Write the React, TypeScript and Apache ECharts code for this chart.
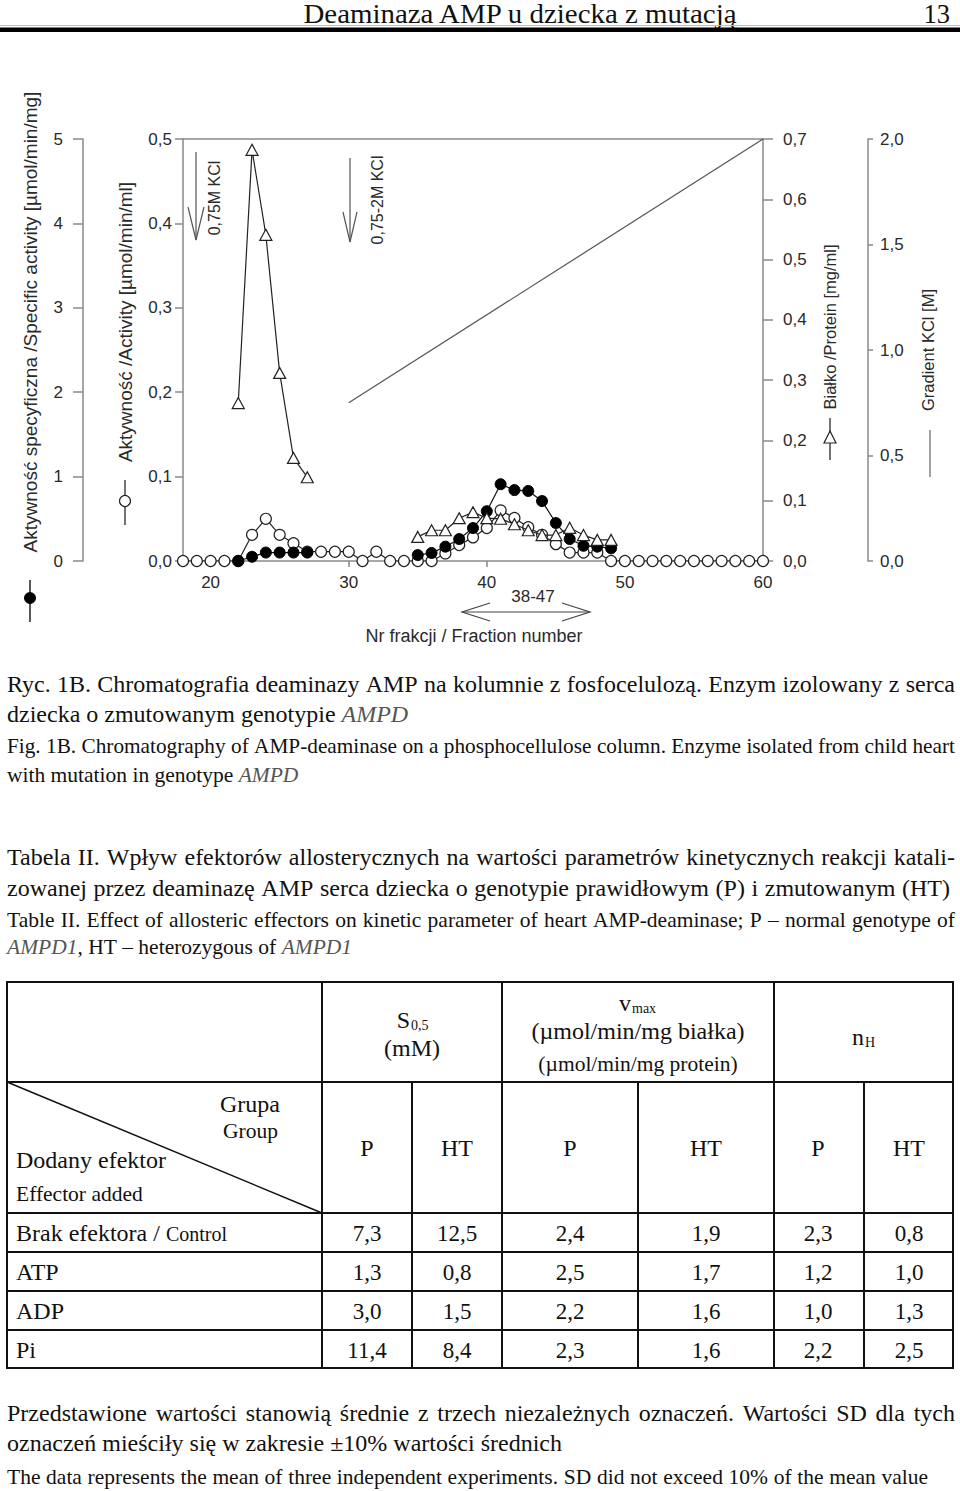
import { useEffect, useRef } from 'react';
import * as echarts from 'echarts';

// ---------------- chart data ----------------
const fractions = [18, 19, 20, 21, 22, 23, 24, 25, 26, 27, 28, 29, 30, 31, 32, 33, 34, 35, 36, 37, 38, 39, 40, 41, 42, 43, 44, 45, 46, 47, 48, 49, 50, 51, 52, 53, 54, 55, 56, 57, 58, 59, 60];
// Aktywność / Activity [µmol/min/ml] (open circles)
const activity = [0, 0, 0, 0, 0, 0.031, 0.05, 0.031, 0.021, 0.011, 0.011, 0.011, 0.011, 0, 0.011, 0, 0, 0, 0, 0.009, 0.019, 0.028, 0.039, 0.06, 0.051, 0.04, 0.031, 0.02, 0.01, 0.01, 0.01, 0, 0, 0, 0, 0, 0, 0, 0, 0, 0, 0, 0];
const peakFractions = [22, 23, 24, 25, 26, 27, 28, 29, 30, 31, 32, 33, 34, 35, 36, 37, 38, 39, 40, 41, 42, 43, 44, 45, 46, 47, 48, 49];
// Aktywność specyficzna / Specific activity [µmol/min/mg] (filled circles)
const specificActivity = [0, 0.05, 0.1, 0.1, 0.1, 0.1, null, null, null, null, null, null, null, 0.07, 0.095, 0.17, 0.26, 0.39, 0.59, 0.91, 0.84, 0.83, 0.71, 0.45, 0.26, 0.18, 0.17, 0.15];
// Białko / Protein [mg/ml] (triangles)
const protein = [0.262, 0.682, 0.541, 0.312, 0.171, 0.139, null, null, null, null, null, null, null, 0.04, 0.051, 0.051, 0.071, 0.081, 0.071, 0.07, 0.061, 0.051, 0.043, 0.043, 0.055, 0.043, 0.035, 0.035];
// Gradient KCl [M]
const kclFractions = [30, 60];
const kclGradient = [0.75, 2.0];
const xTickValues = [20, 30, 40, 50, 60];

// ---------------- table data ----------------
const effectors = ['Brak efektora', 'ATP', 'ADP', 'Pi'];
const s05P = [7.3, 1.3, 3.0, 11.4];
const s05HT = [12.5, 0.8, 1.5, 8.4];
const vmaxP = [2.4, 2.5, 2.2, 2.3];
const vmaxHT = [1.9, 1.7, 1.6, 1.6];
const nhP = [2.3, 1.2, 1.0, 2.2];
const nhHT = [0.8, 1.0, 1.3, 2.5];

const SANS = 'Liberation Sans';
const SERIF = 'Liberation Serif';
const AXIS = '#8a8a8a';
const LBL = '#2a2a2a';
const INK = '#111';

const fmt1 = (v: number) => v.toFixed(1).replace('.', ',');

let mctx: CanvasRenderingContext2D | null = null;
function measure(t: string, size: number, italic: boolean) {
  if (!mctx) mctx = document.createElement('canvas').getContext('2d');
  mctx!.font = `${italic ? 'italic ' : ''}${size}px "${SERIF}"`;
  return mctx!.measureText(t).width;
}

type Seg = { t: string; i: boolean };
function parseWords(line: string): Seg[][] {
  let italic = false;
  return line.split(' ').filter((w) => w.length).map((w) => {
    const segs: Seg[] = [];
    let cur = '';
    for (const ch of w) {
      if (ch === '*') {
        if (cur) segs.push({ t: cur, i: italic });
        cur = '';
        italic = !italic;
      } else cur += ch;
    }
    if (cur) segs.push({ t: cur, i: italic });
    return segs;
  });
}

function textLine(line: string, x: number, y: number, size: number, target: number, justify: boolean) {
  const words = parseWords(line);
  const widths = words.map((ws) => ws.reduce((s, g) => s + measure(g.t, size, g.i), 0));
  const sum = widths.reduce((a, b) => a + b, 0);
  const sp = measure(' ', size, false);
  const n = words.length;
  let sx = 1;
  let gap = sp;
  const natural = sum + sp * (n - 1);
  if (justify && n > 1) {
    if (natural <= target) gap = (target - sum) / (n - 1);
    else { sx = target / natural; gap = sp * sx; }
  }
  const els: any[] = [];
  let cx = x;
  words.forEach((ws, k) => {
    let wx = cx;
    ws.forEach((g) => {
      els.push({
        type: 'text', x: wx, y, scaleX: sx, silent: true,
        style: { text: g.t, fontFamily: SERIF, fontSize: size, fontStyle: g.i ? 'italic' : 'normal', fill: g.i ? '#555' : INK, align: 'left', verticalAlign: 'middle' },
      });
      wx += measure(g.t, size, g.i) * sx;
    });
    cx += widths[k] * sx + gap;
  });
  return els;
}

function txt(text: string, x: number, y: number, size: number, opt: any = {}) {
  return {
    type: 'text', x, y, rotation: opt.rotation || 0, scaleX: opt.scaleX || 1, silent: true,
    style: {
      text, fontFamily: opt.family || SERIF, fontSize: size, fontStyle: opt.italic ? 'italic' : 'normal',
      fill: opt.fill || INK, align: opt.align || 'left', verticalAlign: 'middle',
    },
  };
}
function ln(x1: number, y1: number, x2: number, y2: number, w = 1, c = INK) {
  return { type: 'line', silent: true, shape: { x1, y1, x2, y2 }, style: { stroke: c, lineWidth: w } };
}
function pl(points: number[][], w = 1, c = INK) {
  return { type: 'polyline', silent: true, shape: { points }, style: { stroke: c, lineWidth: w, fill: null } };
}

const PL = 24; // Polish text size
const EN = 21.5; // English text size
const paragraphs: [string, number, number, number, boolean][] = [
  ['Ryc. 1B. Chromatografia deaminazy AMP na kolumnie z fosfocelulozą. Enzym izolowany z serca', 684, PL, 948, true],
  ['dziecka o zmutowanym genotypie *AMPD*', 714, PL, 0, false],
  ['Fig. 1B. Chromatography of AMP-deaminase on a phosphocellulose column. Enzyme isolated from child heart', 746, EN, 948, true],
  ['with mutation in genotype *AMPD*', 775, EN, 0, false],
  ['Tabela II. Wpływ efektorów allosterycznych na wartości parametrów kinetycznych reakcji katali-', 857, PL, 948, true],
  ['zowanej przez deaminazę AMP serca dziecka o genotypie prawidłowym (P) i zmutowanym (HT)', 888, PL, 943, true],
  ['Table II.  Effect of allosteric effectors on kinetic parameter of heart AMP-deaminase; P – normal genotype of', 920, EN, 948, true],
  ['*AMPD1*, HT – heterozygous of *AMPD1*', 947, EN, 0, false],
  ['Przedstawione wartości stanowią średnie z trzech niezależnych oznaczeń. Wartości SD dla tych', 1413, PL, 948, true],
  ['oznaczeń mieściły się w zakresie ±10% wartości średnich', 1443, PL, 0, false],
  ['The data represents the mean of three independent experiments. SD did not exceed 10% of the mean value', 1477, EN, 921, true],
];

function buildGraphic() {
  const els: any[] = [];
  // page header
  const header = 'Deaminaza AMP u dziecka z mutacją';
  const hs = 436 / measure(header, 26.5, false);
  els.push(txt(header, 520, 13.5, 26.5, { align: 'center', scaleX: hs }));
  els.push(txt('13', 950, 13.5, 26.5, { align: 'right' }));
  els.push(ln(0, 25.5, 960, 25.5, 1, '#bbb'));
  els.push({ type: 'rect', silent: true, shape: { x: 0, y: 27.5, width: 960, height: 4.5 }, style: { fill: '#000' } });

  // chart annotations
  els.push(txt('Aktywność specyficzna /Specific activity [µmol/min/mg]', 30, 322, 19, { family: SANS, align: 'center', rotation: Math.PI / 2, fill: LBL }));
  els.push(ln(30, 580, 30, 622, 1.5, '#222'));
  els.push({ type: 'circle', silent: true, shape: { cx: 30, cy: 598, r: 5.5 }, style: { fill: '#000', stroke: '#000' } });

  els.push(txt('Aktywność /Activity [µmol/min/ml]', 125, 322, 19, { family: SANS, align: 'center', rotation: Math.PI / 2, fill: LBL }));
  els.push(ln(125, 480, 125, 525, 1.5, '#444'));
  els.push({ type: 'circle', silent: true, shape: { cx: 125, cy: 501, r: 5.5 }, style: { fill: '#fff', stroke: '#222', lineWidth: 1.2 } });

  els.push(txt('Białko /Protein [mg/ml]', 830, 327, 16.5, { family: SANS, align: 'center', rotation: Math.PI / 2, fill: LBL }));
  els.push(ln(830, 418, 830, 460, 1.5, '#444'));
  els.push({ type: 'polygon', silent: true, shape: { points: [[830, 431], [836, 443], [824, 443]] }, style: { fill: '#fff', stroke: '#222', lineWidth: 1.2 } });

  els.push(txt('Gradient KCl [M]', 928, 350, 16.5, { family: SANS, align: 'center', rotation: Math.PI / 2, fill: LBL }));
  els.push(ln(930, 430, 930, 477, 1.2, '#666'));

  // elution arrows
  els.push(ln(196, 152, 196, 240, 1.2, '#555'));
  els.push(pl([[188, 207], [196, 240], [204, 207]], 1.2, '#555'));
  els.push(txt('0,75M KCl', 214, 198, 16, { family: SANS, align: 'center', rotation: Math.PI / 2, fill: LBL }));
  els.push(ln(350, 158, 350, 242, 1.2, '#555'));
  els.push(pl([[343, 212], [350, 242], [357, 212]], 1.2, '#555'));
  els.push(txt('0,75-2M KCl', 377, 200, 16, { family: SANS, align: 'center', rotation: Math.PI / 2, fill: LBL }));

  // pooled fractions
  els.push(txt('38-47', 533, 596, 17, { family: SANS, align: 'center', fill: LBL }));
  els.push(ln(462, 612, 590, 612, 1.2, '#444'));
  els.push(pl([[490, 603], [462, 612], [490, 621]], 1.2, '#444'));
  els.push(pl([[562, 603], [590, 612], [562, 621]], 1.2, '#444'));
  els.push(txt('Nr frakcji / Fraction number', 474, 636, 18, { family: SANS, align: 'center', fill: LBL }));

  // captions and paragraphs
  paragraphs.forEach(([t, y, size, target, just]) => {
    textLine(t, 7, y, size, target, just).forEach((e) => els.push(e));
  });

  // table
  const T = 982, H1 = 1082, H2 = 1213, B = 1368, L = 7, R = 953;
  const rowsY = [1213, 1252, 1291, 1330];
  const lw = 2;
  els.push({ type: 'rect', silent: true, shape: { x: L, y: T, width: R - L, height: B - T }, style: { fill: null, stroke: INK, lineWidth: lw } });
  els.push(ln(L, H1, R, H1, lw));
  rowsY.forEach((y) => els.push(ln(L, y, R, y, lw)));
  [322, 502, 774].forEach((x) => els.push(ln(x, T, x, B, lw)));
  [412, 638, 864].forEach((x) => els.push(ln(x, H1, x, B, lw)));
  els.push(ln(L, H1, 322, H2, 1.5));

  els.push(txt('S', 410, 1020, 24, { align: 'right' }));
  els.push(txt('0,5', 411, 1025, 14));
  els.push(txt('(mM)', 412, 1048, 24, { align: 'center' }));
  els.push(txt('v', 631, 1003, 24, { align: 'right' }));
  els.push(txt('max', 632, 1008, 14));
  els.push(txt('(µmol/min/mg białka)', 638, 1031, 24, { align: 'center' }));
  els.push(txt('(µmol/min/mg protein)', 638, 1064, 21.5, { align: 'center' }));
  els.push(txt('n', 864, 1037, 24, { align: 'right' }));
  els.push(txt('H', 865, 1042, 14));

  els.push(txt('Grupa', 220, 1104, 24));
  els.push(txt('Group', 223, 1131, 21.5));
  els.push(txt('Dodany efektor', 16, 1160, 24));
  els.push(txt('Effector added', 16, 1194, 21.5));
  const colC = [367, 457, 570, 706, 818, 909];
  ['P', 'HT', 'P', 'HT', 'P', 'HT'].forEach((t, k) => els.push(txt(t, colC[k], 1148, 24, { align: 'center' })));

  const cols = [s05P, s05HT, vmaxP, vmaxHT, nhP, nhHT];
  effectors.forEach((name, r) => {
    const yc = rowsY[r] + 20;
    if (r === 0) {
      els.push(txt(name + ' / ', 16, yc, 24));
      els.push(txt('Control', 16 + measure(name + ' / ', 24, false), yc + 1, 20));
    } else {
      els.push(txt(name, 16, yc, 24));
    }
    cols.forEach((arr, k) => els.push(txt(fmt1(arr[r]), colC[k], yc, 23, { align: 'center' })));
  });
  return els;
}

function yAxisBase(extra: any) {
  return {
    type: 'value',
    axisLine: { show: true, lineStyle: { color: AXIS, width: 1.5 } },
    axisTick: { show: true, inside: false, lineStyle: { color: AXIS, width: 1.5 } },
    axisLabel: { color: LBL, fontFamily: SANS, fontSize: 17 },
    splitLine: { show: false },
    ...extra,
  };
}

export default function App() {
  const ref = useRef<HTMLDivElement>(null);
  useEffect(() => {
    if (!ref.current) return;
    const chart = echarts.init(ref.current, null, { renderer: 'svg' });
    const option: any = {
      animation: false,
      backgroundColor: '#fff',
      grid: { left: 183, right: 197, top: 139, height: 422 },
      xAxis: [
        {
          type: 'value', min: 18, max: 60, position: 'bottom',
          axisLine: { show: true, onZero: false, lineStyle: { color: AXIS, width: 1.5 } },
          axisTick: { show: true, length: 6, customValues: xTickValues, lineStyle: { color: AXIS, width: 1.5 } },
          axisLabel: { customValues: xTickValues, color: LBL, fontFamily: SANS, fontSize: 17, margin: 13 },
          splitLine: { show: false },
        },
        {
          type: 'value', min: 18, max: 60, position: 'top',
          axisLine: { show: true, onZero: false, lineStyle: { color: AXIS, width: 1.5 } },
          axisTick: { show: false }, axisLabel: { show: false }, splitLine: { show: false },
        },
      ],
      yAxis: [
        yAxisBase({ min: 0, max: 0.5, interval: 0.1, position: 'left', offset: 0,
          axisTick: { show: true, length: 8, lineStyle: { color: AXIS, width: 1.5 } },
          axisLabel: { color: LBL, fontFamily: SANS, fontSize: 17, margin: 11, formatter: (v: number) => fmt1(v) } }),
        yAxisBase({ min: 0, max: 5, interval: 1, position: 'left', offset: 100,
          axisTick: { show: true, length: 10, lineStyle: { color: AXIS, width: 1.5 } },
          axisLabel: { color: LBL, fontFamily: SANS, fontSize: 17, margin: 20, formatter: (v: number) => String(v) } }),
        yAxisBase({ min: 0, max: 0.7, interval: 0.1, position: 'right', offset: 0,
          axisTick: { show: true, length: 10, lineStyle: { color: AXIS, width: 1.5 } },
          axisLabel: { color: LBL, fontFamily: SANS, fontSize: 17, margin: 20, formatter: (v: number) => fmt1(v) } }),
        yAxisBase({ min: 0, max: 2, interval: 0.5, position: 'right', offset: 105,
          axisTick: { show: true, length: 5, lineStyle: { color: AXIS, width: 1.5 } },
          axisLabel: { color: LBL, fontFamily: SANS, fontSize: 17, margin: 12, formatter: (v: number) => fmt1(v) } }),
      ],
      series: [
        {
          type: 'line', xAxisIndex: 0, yAxisIndex: 3, z: 1, silent: true,
          data: kclFractions.map((f, i) => [f, kclGradient[i]]),
          symbol: 'none', lineStyle: { color: '#555', width: 1.2 },
        },
        {
          type: 'line', xAxisIndex: 0, yAxisIndex: 0, z: 2, silent: true,
          data: fractions.map((f, i) => [f, activity[i]]),
          symbol: 'circle', symbolSize: 11,
          itemStyle: { color: '#fff', borderColor: '#222', borderWidth: 1.2 },
          lineStyle: { color: '#222', width: 1.2 },
        },
        {
          type: 'line', xAxisIndex: 0, yAxisIndex: 1, z: 3, silent: true, connectNulls: false,
          data: peakFractions.map((f, i) => [f, specificActivity[i] === null ? '-' : specificActivity[i]]),
          symbol: 'circle', symbolSize: 11,
          itemStyle: { color: '#000', borderColor: '#000', borderWidth: 1 },
          lineStyle: { color: '#111', width: 1.2 },
        },
        {
          type: 'line', xAxisIndex: 0, yAxisIndex: 2, z: 4, silent: true, connectNulls: false,
          data: peakFractions.map((f, i) => [f, protein[i] === null ? '-' : protein[i]]),
          symbol: 'triangle', symbolSize: [12, 11],
          itemStyle: { color: '#fff', borderColor: '#222', borderWidth: 1.2 },
          lineStyle: { color: '#222', width: 1.2 },
        },
      ],
      graphic: { elements: buildGraphic() },
    };
    chart.setOption(option);
    return () => chart.dispose();
  }, []);
  return (
    <div
      ref={ref}
      style={{ position: 'absolute', left: 0, top: 0, width: 960, height: 1491, background: '#fff' }}
    />
  );
}
